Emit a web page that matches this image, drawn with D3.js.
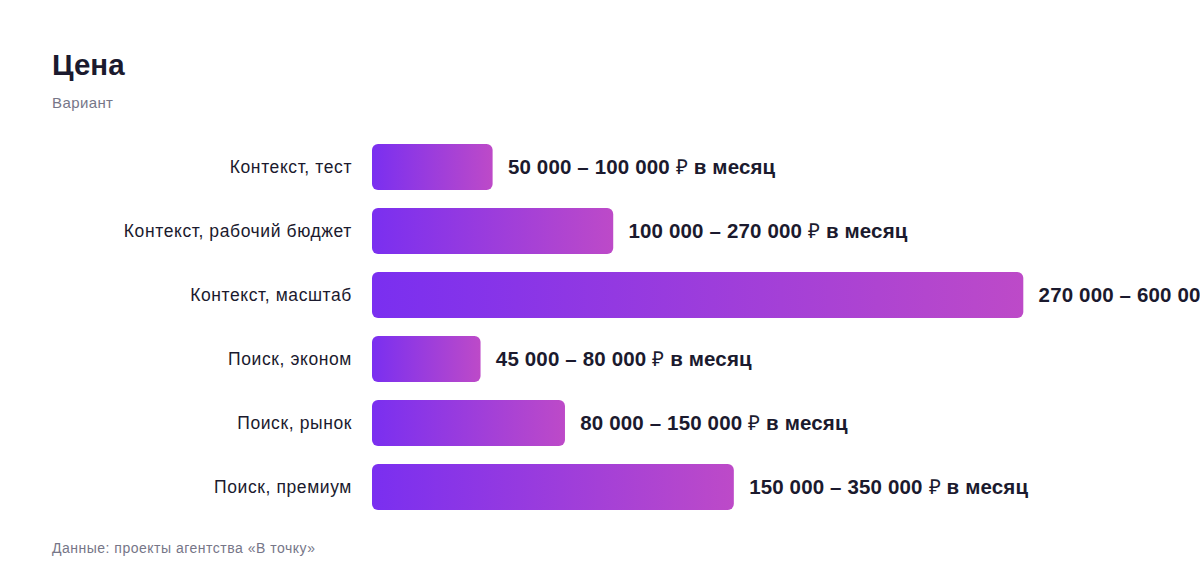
<!DOCTYPE html>
<html><head><meta charset="utf-8">
<script src="https://cdn.jsdelivr.net/npm/d3@7"></script>
<style>
html,body{margin:0;padding:0;background:#fff;overflow:hidden}
svg{display:block;font-family:"Liberation Sans",Arial,Helvetica,sans-serif}
</style></head>
<body>
<svg id="chart" width="1200" height="584"></svg>
<script>
const categories = ["Контекст, тест","Контекст, рабочий бюджет","Контекст, масштаб","Поиск, эконом","Поиск, рынок","Поиск, премиум"];
const values = [50000, 100000, 270000, 45000, 80000, 150000];
const rangeLow = ["50 000","100 000","270 000","45 000","80 000","150 000"];
const rangeHigh = ["100 000","270 000","600 000","80 000","150 000","350 000"];
const title = "Цена";
const subtitle = "Вариант";
const footer = "Данные: проекты агентства «В точку»";

const data = categories.map((c,i)=>({cat:c, v:values[i], lo:rangeLow[i], hi:rangeHigh[i]}));
const svg = d3.select("#chart");

const defs = svg.append("defs");
const grad = defs.append("linearGradient").attr("id","barGrad")
  .attr("x1","0%").attr("x2","100%").attr("y1","0%").attr("y2","0%");
grad.append("stop").attr("offset","0%").attr("stop-color","#7a2ff0");
grad.append("stop").attr("offset","100%").attr("stop-color","#bd4ac8");

const x = d3.scaleLinear().domain([0, d3.max(values)]).range([372, 1023.3]);
const y = d3.scaleBand().domain(categories).range([135, 519]).paddingInner(0.28).paddingOuter(0.14);

svg.append("text").attr("x",52).attr("y",75).attr("font-size",29.5).attr("font-weight",700)
  .attr("fill","#1b1a2e").text(title);
svg.append("text").attr("x",52).attr("y",108).attr("font-size",15).attr("letter-spacing",0.4)
  .attr("fill","#767688").text(subtitle);

const g = svg.append("g");
g.selectAll("rect.bar").data(data).join("rect").attr("class","bar")
  .attr("x", x(0)).attr("y", d=>y(d.cat))
  .attr("width", d=>x(d.v)-x(0)).attr("height", y.bandwidth())
  .attr("rx",6).attr("ry",6).attr("fill","url(#barGrad)");

g.selectAll("text.cat").data(data).join("text").attr("class","cat")
  .attr("x", 352).attr("y", d=>y(d.cat)+y.bandwidth()/2).attr("dy","0.35em")
  .attr("text-anchor","end").attr("font-size",17.5).attr("letter-spacing",0.6)
  .attr("fill","#1b1a2e").text(d=>d.cat);

const vt = g.selectAll("text.val").data(data).join("text").attr("class","val")
  .attr("x", d=>x(d.v)+15.3).attr("y", d=>y(d.cat)+y.bandwidth()/2).attr("dy","0.35em")
  .attr("font-size",20.5).attr("font-weight",700).attr("letter-spacing",0.15).attr("fill","#1b1a2e");
vt.append("tspan").text(d=>d.lo + " – " + d.hi + " ");
vt.append("tspan").attr("font-weight",400).text("₽");
vt.append("tspan").text(" в месяц");

svg.append("text").attr("x",52).attr("y",553).attr("font-size",14).attr("letter-spacing",0.5)
  .attr("fill","#767688").text(footer);
</script>
</body></html>
